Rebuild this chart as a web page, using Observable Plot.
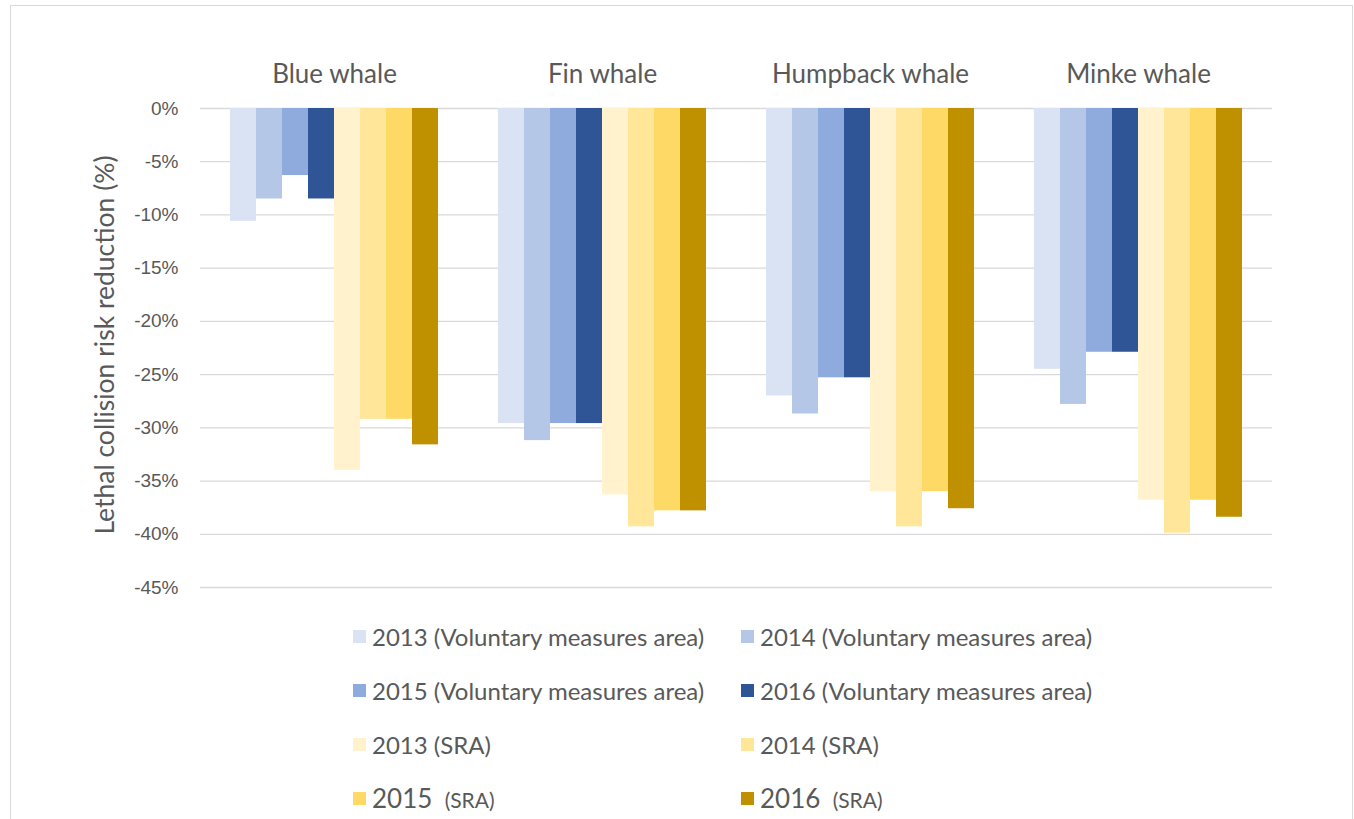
<!DOCTYPE html>
<html>
<head>
<meta charset="utf-8">
<script src="https://cdn.jsdelivr.net/npm/d3@7"></script>
<script src="https://cdn.jsdelivr.net/npm/@observablehq/plot@0.6"></script>
<style>
  html, body { margin: 0; padding: 0; background: #fff; }
  #page { position: relative; width: 1354px; height: 819px; overflow: hidden; }
  #frame { position: absolute; left: 10px; top: 5px; width: 1343px; height: 830px; border: 1.5px solid #d9d9d9; box-sizing: border-box; }
  #chart { position: absolute; left: 0; top: 0; }
  #legend { position: absolute; left: 353px; top: 609px; display: grid; grid-template-columns: 388px 400px; grid-auto-rows: 54px; font-family: Lato, "Open Sans", sans-serif; font-size: 24px; color: #595959; }
  .item { display: flex; align-items: center; white-space: nowrap; }
  .sw { width: 13px; height: 13px; margin-right: 6px; flex: none; }
  .big { font-size: 26px; }
  .small { font-size: 21px; }
</style>
</head>
<body>
<div id="page">
  <div id="frame"></div>
  <div id="chart"></div>
  <div id="legend"></div>
</div>
<script>
const whales = ["Blue whale", "Fin whale", "Humpback whale", "Minke whale"];
const series = [
  "2013 (Voluntary measures area)",
  "2014 (Voluntary measures area)",
  "2015 (Voluntary measures area)",
  "2016 (Voluntary measures area)",
  "2013 (SRA)",
  "2014 (SRA)",
  "2015  (SRA)",
  "2016  (SRA)"
];
const colors = ["#dae3f3", "#b4c7e7", "#8faadc", "#2f5597", "#fff2cc", "#ffe699", "#ffd966", "#bf9000"];
// values per series, in whale order (Blue, Fin, Humpback, Minke), percent
const vma2013 = [-10.6, -29.6, -27.0, -24.5];
const vma2014 = [-8.5, -31.2, -28.7, -27.8];
const vma2015 = [-6.3, -29.6, -25.3, -22.9];
const vma2016 = [-8.5, -29.6, -25.3, -22.9];
const sra2013 = [-34.0, -36.3, -36.0, -36.8];
const sra2014 = [-29.2, -39.3, -39.3, -39.9];
const sra2015 = [-29.2, -37.8, -36.0, -36.8];
const sra2016 = [-31.6, -37.8, -37.6, -38.4];
const seriesValues = [vma2013, vma2014, vma2015, vma2016, sra2013, sra2014, sra2015, sra2016];
const yTicks = [0, -5, -10, -15, -20, -25, -30, -35, -40, -45];

const data = whales.flatMap((w, i) => series.map((s, j) => ({whale: w, series: s, value: seriesValues[j][i]})));

const chart = Plot.plot({
  width: 1354,
  height: 600,
  marginLeft: 200,
  marginRight: 82,
  marginTop: 108,
  marginBottom: 13,
  style: {fontFamily: "Liberation Sans, Arial, sans-serif", background: "transparent"},
  fx: {domain: whales, padding: 0, label: null},
  x: {domain: series, paddingInner: 0, paddingOuter: 1.11, axis: null},
  y: {domain: [-45, 0], label: null},
  color: {domain: series, range: colors},
  marks: [
    Plot.ruleY(yTicks, {stroke: "#d9d9d9", strokeWidth: 1.3}),
    Plot.barY(data, {fx: "whale", x: "series", y: "value", fill: "series", inset: 0}),
    Plot.axisY({
      ticks: yTicks, tickFormat: d => `${d}%`, tickSize: 0, tickPadding: 22,
      fontSize: 19, color: "#595959",
      label: null
    }),
    Plot.axisFx({anchor: "top", tickSize: 0, tickPadding: 26, fontSize: 26, color: "#595959", fontFamily: "Lato, sans-serif", label: null})
  ]
});
document.getElementById("chart").appendChild(chart);

// Y-axis title
const svg = d3.select(chart.tagName === "svg" ? chart : chart.querySelector("svg"));
svg.append("text")
  .attr("transform", "translate(104,345) rotate(-90)")
  .attr("text-anchor", "middle")
  .attr("dominant-baseline", "central")
  .attr("font-family", "Lato, sans-serif")
  .attr("font-size", 26.5)
  .attr("fill", "#595959")
  .text("Lethal collision risk reduction (%)");

// Legend
const legend = document.getElementById("legend");
series.forEach((s, i) => {
  const item = document.createElement("div");
  item.className = "item";
  const sw = document.createElement("span");
  sw.className = "sw";
  sw.style.background = colors[i];
  item.appendChild(sw);
  const m = s.match(/^(\d{4})(\s+)\(SRA\)$/);
  const label = document.createElement("span");
  if (m && m[2].length > 1) {
    label.innerHTML = `<span class="big">${m[1]}</span>&nbsp;&nbsp;<span class="small">(SRA)</span>`;
  } else {
    label.textContent = s;
  }
  item.appendChild(label);
  legend.appendChild(item);
});
</script>
</body>
</html>
